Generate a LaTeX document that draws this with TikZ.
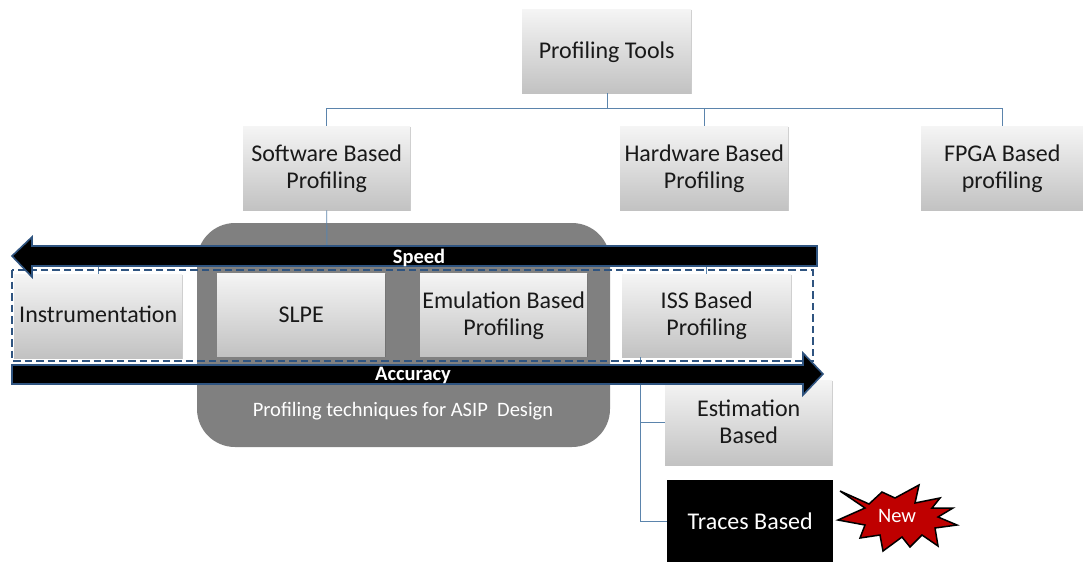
\documentclass[tikz,border=0pt]{standalone}
\usepackage{fontspec}
\setmainfont{Carlito}
\usetikzlibrary{shadows}
\definecolor{lnk}{HTML}{5B84AC}
\definecolor{arrowedge}{HTML}{2F5480}
\definecolor{dashc}{HTML}{2F5480}
\tikzset{
  x=1pt,y=-1pt,
  grad/.style={draw=none,top color=white!96!black,bottom color=black!24,
    drop shadow={shadow xshift=0.3pt,shadow yshift=-1pt,opacity=0.2,fill=black},
    font=\fontsize{24}{27}\selectfont,text=black!90,inner sep=0pt,anchor=north west},
  link/.style={draw=lnk,line width=0.9pt},
  barrow/.style={fill=black,draw=arrowedge,line width=1.6pt,line join=miter},
  blabel/.style={text=white,font=\fontsize{20.5}{22}\selectfont\bfseries,inner sep=0pt},
}
\newcommand{\gbox}[7]{\node[grad,minimum width=#3pt-#1pt,minimum height=#4pt-#2pt] (#5) at (#1,#2) {\raisebox{#7pt}[\height][\depth]{\begin{tabular}[c]{@{}c@{}}#6\end{tabular}}};}
\begin{document}
\begin{tikzpicture}
\useasboundingbox (0,0) rectangle (1083,562);
\fill[white] (0,0) rectangle (1083,562);
\fill[black!50] (197,223) [rounded corners=38pt] rectangle (610,447);
\node[text=white,font=\fontsize{20.5}{22}\selectfont,inner sep=0pt] (cap) at (403,411) {Profiling techniques for ASIP\ \ Design};

\gbox{522}{9}{691}{93}{tools}{Profiling Tools}{-2}
\gbox{243}{126}{410}{210}{soft}{Software Based\\Profiling}{-1}
\gbox{620}{126}{788}{210}{hard}{Hardware Based\\Profiling}{-1}
\gbox{921}{126}{1083}{210}{fpga}{FPGA Based\\profiling}{-1}
\gbox{14}{274}{182}{358}{inst}{Instrumentation}{-1}
\gbox{217}{273}{385}{356}{slpe}{SLPE}{-2}
\gbox{420}{273}{587}{356}{emu}{Emulation Based\\Profiling}{-2}
\gbox{622}{274}{791}{357}{iss}{ISS Based\\Profiling}{-1}
\gbox{665}{380}{832}{465}{est}{Estimation\\Based}{-2}
\node[fill=black,text=white,minimum width=166pt,minimum height=82pt,anchor=north west,inner sep=0pt,font=\fontsize{24}{27}\selectfont] (tr) at (667,480) {Traces Based};

\coordinate (b1) at (607,108);
\coordinate (b2) at (327,258);
\coordinate (b3) at (640,422);
\coordinate (b4) at (640,521);
\draw[link] (tools.south -| b1) -- (b1);
\draw[link] (b1) -| (soft.north);
\draw[link] (b1) -| (hard.north);
\draw[link] (b1) -| (fpga.north);
\draw[link] (soft.south) -- (b2);
\draw[link] (b2) -| (inst.north);
\draw[link] (b2) -| (iss.north);
\draw[link] (iss.south -| b3) -- (b4);
\draw[link] (b3) -- (b3 -| est.west);
\draw[link] (b4) -- (b4 -| tr.west);

\draw[dashc,line width=1.6pt,dash pattern=on 7.5pt off 4pt] (12,270) rectangle (813,361);

\draw[barrow] (12,256) -- (32,237) -- (32,246) -- (817,246) -- (817,266) -- (32,266) -- (32,277) -- cycle;
\node[blabel] (speed) at (419,257.5) {Speed};
\draw[barrow] (823,374) -- (803,353) -- (803,365) -- (12,365) -- (12,384) -- (803,384) -- (803,395) -- cycle;
\node[blabel] (acc) at (413,375) {Accuracy};

\draw[fill=red!75!black,draw=black,line width=1.5pt,line join=miter]
 (840,491) -- (869,504) -- (882,492) -- (895,498) -- (919,485) -- (915,503) -- (940,498) -- (932,508) -- (953,508) -- (938,517)
 -- (957,525) -- (935,528) -- (938,546) -- (922,535) -- (910,547) -- (902,537) -- (883,551) -- (880,535) -- (860,538) -- (865,525) -- (838,520) -- (865,508) -- cycle;
\node[text=white,font=\fontsize{20.5}{22}\selectfont,inner sep=0pt] (new) at (897,516) {New};
\end{tikzpicture}
\end{document}
